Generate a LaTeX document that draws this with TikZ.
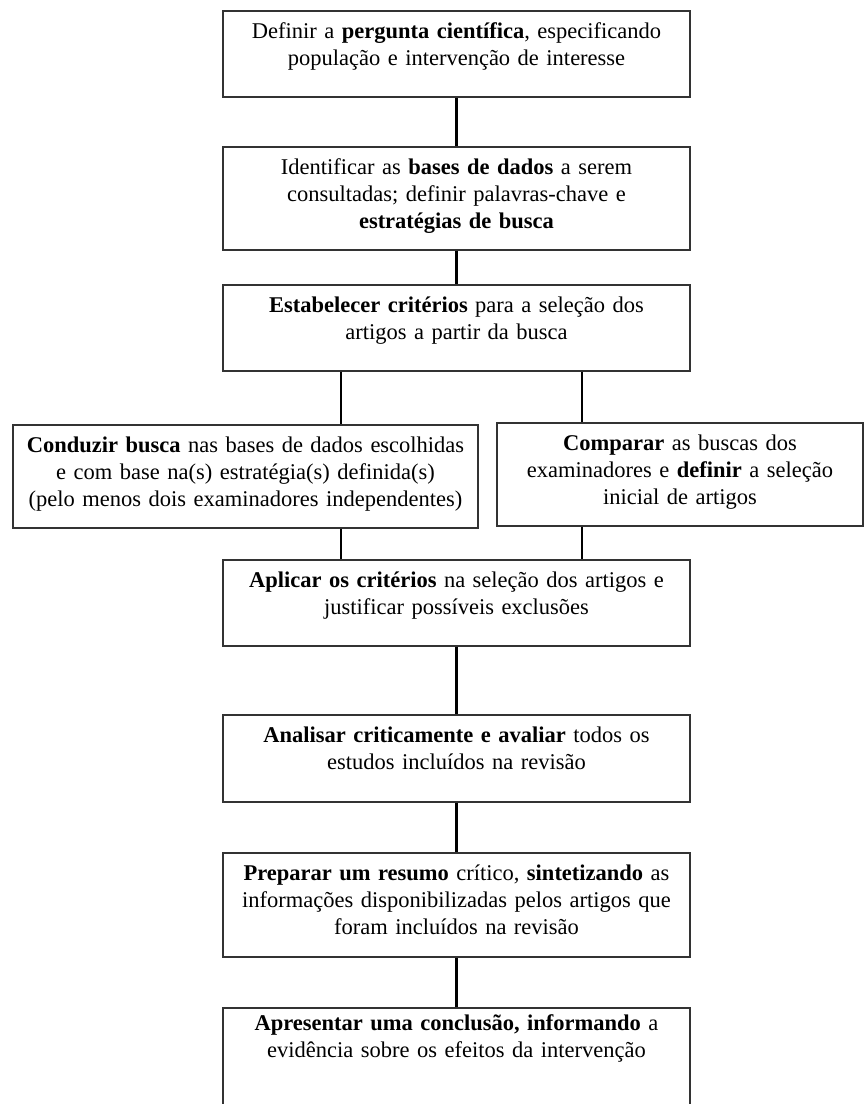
\documentclass[tikz,border=0pt]{standalone}
\usepackage{fontspec}
\setmainfont{Liberation Serif}
\tikzset{
  >=stealth,
  stepbox/.style={draw=black!80,line width=1.5pt,anchor=north,align=center,
    inner sep=0pt,text height=28pt,font=\fontsize{22.5}{27}\selectfont},
  link/.style={draw=black,line width=2.8pt}
}
\begin{document}
\begin{tikzpicture}[x=1pt,y=-1pt]
  \useasboundingbox (0,0) rectangle (864,1104);
  \node (perg) at (456.5,10) [stepbox,text width=467pt,text depth=58pt]
    {Definir a \textbf{pergunta científica}, especificando\\ população e intervenção de interesse};
  \node (bases) at (456.5,146) [stepbox,text width=467pt,text depth=75pt]
    {Identificar as \textbf{bases de dados} a serem\\ consultadas; definir palavras-chave e\\ \textbf{estratégias de busca}};
  \node (crit) at (456.5,284) [stepbox,text width=467pt,text depth=58pt]
    {\textbf{Estabelecer critérios} para a seleção dos\\ artigos a partir da busca};
  \node (busca) at (245.5,424) [stepbox,text width=465pt,text depth=75pt]
    {\textbf{Conduzir busca} nas bases de dados escolhidas\\ e com base na(s) estratégia(s) definida(s)\\ (pelo menos dois examinadores independentes)};
  \node (comp) at (680,422) [stepbox,text width=366pt,text depth=75pt]
    {\textbf{Comparar} as buscas dos\\ examinadores e \textbf{definir} a seleção\\ inicial de artigos};
  \node (apl) at (456.5,559) [stepbox,text width=467pt,text depth=58pt]
    {\textbf{Aplicar os critérios} na seleção dos artigos e\\ justificar possíveis exclusões};
  \node (anal) at (456.5,714) [stepbox,text width=467pt,text depth=59pt]
    {\textbf{Analisar criticamente e avaliar} todos os\\ estudos incluídos na revisão};
  \node (prep) at (456.5,852) [stepbox,text width=467pt,text depth=76pt]
    {\textbf{Preparar um resumo} crítico, \textbf{sintetizando} as\\ informações disponibilizadas pelos artigos que\\ foram incluídos na revisão};
  \node (concl) at (456.5,1007) [stepbox,text width=467pt,text height=23pt,text depth=120pt]
    {\textbf{Apresentar uma conclusão, informando} a\\ evidência sobre os efeitos da intervenção};
  % ramos
  \coordinate (esq) at (341,0);
  \coordinate (dir) at (582,0);
  \draw (perg) -- (bases) [link];
  \draw (bases) -- (crit) [link];
  \draw (crit.south -| esq) -- (busca.north -| esq) [link];
  \draw (crit.south -| dir) -- (comp.north -| dir) [link];
  \draw (busca.south -| esq) -- (apl.north -| esq) [link];
  \draw (comp.south -| dir) -- (apl.north -| dir) [link];
  \draw (apl) -- (anal) [link];
  \draw (anal) -- (prep) [link];
  \draw (prep) -- (concl) [link];
\end{tikzpicture}
\end{document}
